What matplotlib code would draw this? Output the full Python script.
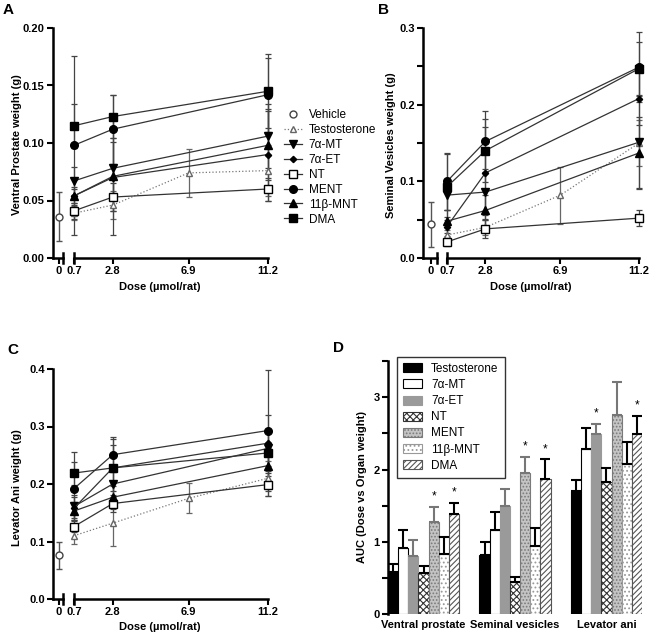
import matplotlib
matplotlib.use("Agg")
import matplotlib.pyplot as plt
import matplotlib.ticker as mticker
from matplotlib.lines import Line2D

plt.rcParams['font.family'] = ['Liberation Sans', 'DejaVu Sans']
plt.rcParams['hatch.linewidth'] = 0.8

# ---- data ----
compounds = ["Testosterone", "7α-MT", "7α-ET", "NT", "MENT", "11β-MNT", "DMA"]
dose = [0.7, 2.8, 11.2]
dose_t = [0.7, 2.8, 6.9, 11.2]          # testosterone has an extra dose
dose_ticks = [0.7, 2.8, 6.9, 11.2]

# A: ventral prostate (g)
vp_vehicle, vp_vehicle_sd = 0.036, 0.021
vp_mean = {"Testosterone": [0.039, 0.046, 0.074, 0.076],
           "7α-MT": [0.067, 0.078, 0.106],
           "7α-ET": [0.054, 0.070, 0.090],
           "NT": [0.041, 0.053, 0.060],
           "MENT": [0.098, 0.112, 0.142],
           "11β-MNT": [0.054, 0.071, 0.098],
           "DMA": [0.115, 0.123, 0.145]}
vp_sd = {"Testosterone": [0.006, 0.012, 0.021, 0.022],
         "7α-MT": [0.012, 0.026, 0.028],
         "7α-ET": [0.008, 0.050, 0.040],
         "NT": [0.007, 0.012, 0.010],
         "MENT": [0.078, 0.030, 0.032],
         "11β-MNT": [0.006, 0.030, 0.030],
         "DMA": [0.019, 0.019, 0.032]}

# B: seminal vesicles (g)
sv_vehicle, sv_vehicle_sd = 0.044, 0.029
sv_mean = {"Testosterone": [0.030, 0.040, 0.082, 0.150],
           "7α-MT": [0.082, 0.086, 0.151],
           "7α-ET": [0.041, 0.111, 0.208],
           "NT": [0.021, 0.038, 0.052],
           "MENT": [0.100, 0.152, 0.249],
           "11β-MNT": [0.048, 0.062, 0.137],
           "DMA": [0.093, 0.140, 0.247]}
sv_sd = {"Testosterone": [0.006, 0.010, 0.037, 0.030],
         "7α-MT": [0.020, 0.030, 0.060],
         "7α-ET": [0.012, 0.060, 0.035],
         "NT": [0.005, 0.012, 0.010],
         "MENT": [0.037, 0.040, 0.046],
         "11β-MNT": [0.015, 0.020, 0.047],
         "DMA": [0.043, 0.041, 0.035]}

# C: levator ani (g)
la_vehicle, la_vehicle_sd = 0.076, 0.024
la_mean = {"Testosterone": [0.110, 0.132, 0.175, 0.210],
           "7α-MT": [0.161, 0.200, 0.262],
           "7α-ET": [0.158, 0.228, 0.271],
           "NT": [0.126, 0.166, 0.199],
           "MENT": [0.192, 0.251, 0.293],
           "11β-MNT": [0.153, 0.177, 0.232],
           "DMA": [0.219, 0.228, 0.254]}
la_sd = {"Testosterone": [0.015, 0.040, 0.026, 0.030],
         "7α-MT": [0.020, 0.030, 0.030],
         "7α-ET": [0.020, 0.040, 0.049],
         "NT": [0.010, 0.015, 0.020],
         "MENT": [0.064, 0.030, 0.105],
         "11β-MNT": [0.015, 0.020, 0.030],
         "DMA": [0.020, 0.050, 0.040]}

# D: AUC per organ
organs = ["Ventral prostate", "Seminal vesicles", "Levator ani"]
auc_mean = {"Testosterone": [0.59, 0.82, 1.71],
            "7α-MT": [0.91, 1.16, 2.29],
            "7α-ET": [0.80, 1.50, 2.49],
            "NT": [0.57, 0.44, 1.83],
            "MENT": [1.28, 1.95, 2.75],
            "11β-MNT": [0.84, 0.95, 2.07],
            "DMA": [1.38, 1.87, 2.49]}
auc_sem = {"Testosterone": [0.11, 0.18, 0.15],
           "7α-MT": [0.26, 0.25, 0.29],
           "7α-ET": [0.22, 0.23, 0.14],
           "NT": [0.10, 0.08, 0.19],
           "MENT": [0.20, 0.23, 0.46],
           "11β-MNT": [0.23, 0.24, 0.31],
           "DMA": [0.16, 0.27, 0.25]}
significant = {"7α-ET": [2], "MENT": [0, 1], "DMA": [0, 1, 2]}

# ---- styles ----
line_styles = {
    "Testosterone": dict(marker='^', mfc='white', mec='#666666', color='#777777', ls=':', ms=5),
    "7α-MT": dict(marker='v', mfc='black', mec='black', color='#333333', ls='-', ms=5.5),
    "7α-ET": dict(marker='D', mfc='black', mec='black', color='#333333', ls='-', ms=3.2),
    "NT": dict(marker='s', mfc='white', mec='black', color='#333333', ls='-', ms=5.5),
    "MENT": dict(marker='o', mfc='black', mec='black', color='#333333', ls='-', ms=5.5),
    "11β-MNT": dict(marker='^', mfc='black', mec='black', color='#333333', ls='-', ms=5.5),
    "DMA": dict(marker='s', mfc='black', mec='black', color='#333333', ls='-', ms=5.5),
}
bar_styles = {
    "Testosterone": dict(facecolor='black', edgecolor='black'),
    "7α-MT": dict(facecolor='white', edgecolor='black'),
    "7α-ET": dict(facecolor='#9a9a9a', edgecolor='#9a9a9a'),
    "NT": dict(facecolor='white', edgecolor='#333333', hatch='xxxxx'),
    "MENT": dict(facecolor='#c4c4c4', edgecolor='#7a7a7a', hatch='.....'),
    "11β-MNT": dict(facecolor='white', edgecolor='#999999', hatch='....'),
    "DMA": dict(facecolor='white', edgecolor='#555555', hatch='//////'),
}

W, H = 650, 637
fig = plt.figure(figsize=(6.5, 6.37), dpi=100)


def px_rect(x0, y0, x1, y1):
    # pixel box (origin top-left) -> figure fraction rect
    return [x0 / W, 1 - y1 / H, (x1 - x0) / W, (y1 - y0) / H]


def bold_ticks(ax):
    for lbl in ax.get_xticklabels() + ax.get_yticklabels():
        lbl.set_fontweight('bold')


def dose_panel(xv0, xv1, xm0, xm1, ytop, ybot, vlim, means, sds, veh, veh_sd,
               ylim, ystep, yminor, yfmt):
    axv = fig.add_axes(px_rect(xv0, ytop, xv1, ybot))
    axm = fig.add_axes(px_rect(xm0, ytop, xm1, ybot), sharey=axv)
    for ax in (axv, axm):
        ax.spines['top'].set_visible(False)
        ax.spines['right'].set_visible(False)
        ax.spines['bottom'].set_linewidth(1.8)
        ax.tick_params(axis='x', length=4, width=1.5, pad=2, labelsize=8)
        ax.patch.set_visible(False)
    axm.spines['left'].set_visible(False)
    axm.tick_params(axis='y', which='both', left=False, labelleft=False)
    axv.spines['left'].set_linewidth(1.8)
    axv.tick_params(axis='y', which='both', length=4, width=1.5, pad=2, labelsize=8)

    axv.set_xlim(*vlim)
    axv.set_xticks([0])
    axm.set_xlim(0.7, 11.2)
    axm.set_xticks(dose_ticks)
    axm.set_xticklabels([str(d) for d in dose_ticks])
    axv.set_ylim(*ylim)
    axv.yaxis.set_major_locator(mticker.MultipleLocator(ystep))
    if yminor:
        axv.yaxis.set_minor_locator(mticker.MultipleLocator(yminor))
    axv.yaxis.set_major_formatter(mticker.FormatStrFormatter(yfmt))

    axv.errorbar([0], [veh], yerr=[veh_sd], fmt='o', mfc='white', mec='#444444',
                 ms=5, ecolor='#555555', elinewidth=1, capsize=2.5, clip_on=False)
    for name in compounds:
        x = dose_t if name == "Testosterone" else dose
        st = line_styles[name]
        axm.errorbar(x, means[name], yerr=sds[name], marker=st['marker'], ms=st['ms'],
                     mfc=st['mfc'], mec=st['mec'], color=st['color'], ls=st['ls'], lw=0.9,
                     ecolor='#444444' if name != "Testosterone" else '#666666',
                     elinewidth=0.9, capsize=2.5, capthick=0.9, clip_on=False)

    # axis-break marks
    axv.plot([1, 1], [-0.022, 0.022], transform=axv.transAxes, color='black',
             lw=1.8, clip_on=False)
    axm.plot([0, 0], [-0.022, 0.022], transform=axm.transAxes, color='black',
             lw=1.8, clip_on=False)
    bold_ticks(axv)
    bold_ticks(axm)
    return axv, axm


# Panel A
dose_panel(53, 63, 74, 268, 28, 258, (-0.6, 0.4), vp_mean, vp_sd, vp_vehicle, vp_vehicle_sd,
           (0, 0.2), 0.05, None, '%.2f')
fig.text(160 / W, 1 - 287 / H, "Dose (µmol/rat)", ha='center', va='center', fontsize=8, fontweight='bold')
fig.text(17 / W, 1 - 145 / H, "Ventral Prostate weight (g)", rotation=90, ha='center', va='center',
         fontsize=8, fontweight='bold')

# Panel B
dose_panel(423, 437, 447, 639, 28, 258, (-0.55, 0.45), sv_mean, sv_sd, sv_vehicle, sv_vehicle_sd,
           (0, 0.3), 0.1, 0.05, '%.1f')
fig.text(531 / W, 1 - 287 / H, "Dose (µmol/rat)", ha='center', va='center', fontsize=8, fontweight='bold')
fig.text(391 / W, 1 - 145 / H, "Seminal Vesicles weight (g)", rotation=90, ha='center', va='center',
         fontsize=8, fontweight='bold')

# Panel C
dose_panel(53, 63, 74, 268, 369, 599, (-0.6, 0.4), la_mean, la_sd, la_vehicle, la_vehicle_sd,
           (0, 0.4), 0.1, None, '%.1f')
fig.text(160 / W, 1 - 627 / H, "Dose (µmol/rat)", ha='center', va='center', fontsize=8, fontweight='bold')
fig.text(17 / W, 1 - 488 / H, "Levator Ani weight (g)", rotation=90, ha='center', va='center',
         fontsize=8, fontweight='bold')

# legend for A-C
handles = [Line2D([], [], marker='o', ls='none', mfc='white', mec='#444444', ms=5)]
for name in compounds:
    st = line_styles[name]
    handles.append(Line2D([], [], marker=st['marker'], ms=st['ms'], mfc=st['mfc'], mec=st['mec'],
                          color=st['color'], ls=st['ls'], lw=0.9))
fig.legend(handles, ["Vehicle"] + compounds, loc='upper left', bbox_to_anchor=(278 / W, 1 - 103 / H),
           frameon=False, fontsize=8.5, handlelength=1.5, labelspacing=0.25, handletextpad=0.6,
           borderpad=0)

# Panel D
axd = fig.add_axes(px_rect(388, 361, 642, 614.3))
group_gap = 9
for i, name in enumerate(compounds):
    xs = [g * group_gap + i for g in range(len(organs))]
    axd.bar(xs, auc_mean[name], width=1, linewidth=0.8, label=name, **bar_styles[name])
    ecol = '#777777' if name in ("7α-ET", "MENT") else 'black'
    axd.errorbar(xs, auc_mean[name], yerr=[[0] * len(xs), auc_sem[name]], fmt='none',
                 ecolor=ecol, elinewidth=1.5, capsize=3.5, capthick=1.5)
    for g in significant.get(name, []):
        axd.text(xs[g], auc_mean[name][g] + auc_sem[name][g] + 0.06, '*', ha='center',
                 va='bottom', fontsize=8.5)

axd.set_xlim(-0.5, 2 * group_gap + 6.5)
axd.set_ylim(0, 3.5)
axd.yaxis.set_major_locator(mticker.MultipleLocator(1))
axd.yaxis.set_minor_locator(mticker.MultipleLocator(0.5))
axd.set_xticks([g * group_gap + 3 for g in range(len(organs))])
axd.set_xticklabels(organs)
axd.tick_params(axis='x', length=0, pad=4, labelsize=8)
axd.tick_params(axis='y', which='both', length=4, width=1.5, pad=2, labelsize=8)
for s in ('top', 'right', 'bottom'):
    axd.spines[s].set_visible(False)
axd.spines['left'].set_linewidth(1.8)
bold_ticks(axd)
fig.text(362 / W, 1 - 487 / H, "AUC (Dose vs Organ weight)", rotation=90, ha='center', va='center',
         fontsize=8, fontweight='bold')
leg = axd.legend(loc='upper left', bbox_to_anchor=(397 / W, 1 - 357 / H), bbox_transform=fig.transFigure,
                 fontsize=8.5, handlelength=1.6, handleheight=0.8, labelspacing=0.35, handletextpad=0.8,
                 fancybox=False, edgecolor='#333333', framealpha=1, borderpad=0.5, borderaxespad=0)
leg.get_frame().set_linewidth(1)

# panel letters
for letter, x, y in [("A", 3, 3), ("B", 378, 3), ("C", 7, 343), ("D", 333, 341)]:
    fig.text(x / W, 1 - y / H, letter, ha='left', va='top', fontsize=11, fontweight='bold')

fig.savefig("out.png", dpi=100)
